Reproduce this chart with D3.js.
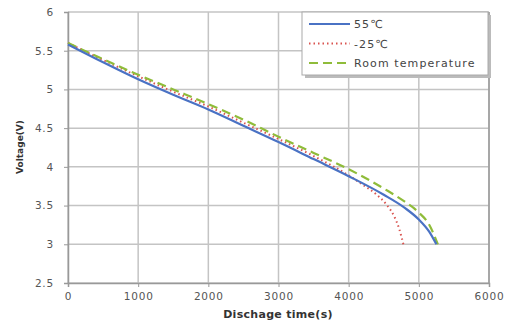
<!DOCTYPE html>
<html><head><meta charset="utf-8">
<script src="https://cdn.jsdelivr.net/npm/d3@7"></script>
<style>body{margin:0;background:#fff}svg{display:block}</style>
</head><body><svg id="c" width="509" height="325"></svg>
<script>
const seriesNames = ["55℃", "-25℃", "Room temperature"];
const t55 = [0, 500, 1000, 1500, 2000, 2500, 3000, 3500, 4000, 4500, 4800, 5000, 5150, 5250];
const v55 = [5.58, 5.35, 5.13, 4.93, 4.74, 4.53, 4.32, 4.1, 3.88, 3.64, 3.47, 3.32, 3.16, 3.0];
const tM25 = [0, 500, 1000, 1500, 2000, 2500, 3000, 3500, 4000, 4200, 4400, 4550, 4650, 4720, 4780];
const vM25 = [5.6, 5.38, 5.17, 4.97, 4.78, 4.57, 4.36, 4.14, 3.89, 3.77, 3.64, 3.5, 3.36, 3.2, 3.0];
const tRoom = [0, 500, 1000, 1500, 2000, 2500, 3000, 3500, 4000, 4500, 4800, 5000, 5150, 5270];
const vRoom = [5.6, 5.39, 5.19, 5.0, 4.81, 4.61, 4.39, 4.18, 3.97, 3.72, 3.55, 3.41, 3.25, 3.0];
const xTicks = [0, 1000, 2000, 3000, 4000, 5000, 6000];
const yTicks = [2.5, 3, 3.5, 4, 4.5, 5, 5.5, 6];

const svg = d3.select("#c");
const L = 68, R = 489, T = 12, B = 283;
const x = d3.scaleLinear().domain([0, 6000]).range([L, R]);
const y = d3.scaleLinear().domain([2.5, 6]).range([B, T]);
const font = "Verdana, 'DejaVu Sans', sans-serif";

// gridlines
svg.append("g").selectAll("line").data(xTicks).join("line")
  .attr("x1", d => x(d)).attr("x2", d => x(d)).attr("y1", T).attr("y2", B)
  .attr("stroke", "#c4c4c4").attr("stroke-width", 1.5);
svg.append("g").selectAll("line").data(yTicks).join("line")
  .attr("x1", L).attr("x2", R).attr("y1", d => y(d)).attr("y2", d => y(d))
  .attr("stroke", "#c4c4c4").attr("stroke-width", 1.5);
// right border
svg.append("line").attr("x1", R).attr("x2", R).attr("y1", T).attr("y2", B)
  .attr("stroke", "#999").attr("stroke-width", 1.5);

// axes
const xAxis = svg.append("g").attr("transform", `translate(0,${B})`)
  .call(d3.axisBottom(x).tickValues(xTicks).tickSize(4).tickPadding(6).tickFormat(d3.format("d")));
const yAxis = svg.append("g").attr("transform", `translate(${L},0)`)
  .call(d3.axisLeft(y).tickValues(yTicks).tickSize(4).tickPadding(10).tickFormat(d => String(d)));
[xAxis, yAxis].forEach(a => {
  a.select(".domain").attr("stroke", "#999").attr("stroke-width", 1.5);
  a.selectAll(".tick line").attr("stroke", "#999");
  a.selectAll("text").attr("fill", "#555").attr("font-size", 10.5).attr("font-family", font)
    .attr("letter-spacing", 0.8);
});

// series
const line = d3.line().x(d => x(d[0])).y(d => y(d[1])).curve(d3.curveMonotoneX);
const series = [
  {name: seriesNames[1], t: tM25, v: vM25, color: "#d9534f", dash: "1.5,3", w: 2},
  {name: seriesNames[2], t: tRoom, v: vRoom, color: "#8fbc3a", dash: "9,5", w: 2.2},
  {name: seriesNames[0], t: t55, v: v55, color: "#4a72c4", dash: null, w: 2.2},
];
series.forEach(s => {
  svg.append("path").datum(s.t.map((t, i) => [t, s.v[i]]))
    .attr("d", line).attr("fill", "none").attr("stroke", s.color)
    .attr("stroke-width", s.w).attr("stroke-dasharray", s.dash);
});

// legend
const lg = svg.append("g");
lg.append("rect").attr("x", 305).attr("y", 15).attr("width", 186).attr("height", 63).attr("fill", "#bbb");
lg.append("rect").attr("x", 302).attr("y", 12).attr("width", 186).attr("height", 63)
  .attr("fill", "#fff").attr("stroke", "#aaa");
seriesNames.map(n => series.find(s => s.name === n)).forEach((s, i) => {
  const yy = 24 + i * 19.5;
  lg.append("line").attr("x1", 309).attr("x2", 350).attr("y1", yy).attr("y2", yy)
    .attr("stroke", s.color).attr("stroke-width", 2).attr("stroke-dasharray", s.dash);
  lg.append("text").attr("x", 354).attr("y", yy + 4).text(s.name)
    .attr("font-size", 11).attr("letter-spacing", 1.1).attr("font-family", font).attr("fill", "#444");
});

// titles
svg.append("text").attr("x", 278).attr("y", 318).attr("text-anchor", "middle")
  .attr("font-size", 11).attr("letter-spacing", 0.3).attr("font-weight", "bold").attr("font-family", font).attr("fill", "#333")
  .text("Dischage time(s)");
svg.append("text").attr("transform", "translate(23,147) rotate(-90)").attr("text-anchor", "middle")
  .attr("font-size", 9).attr("font-weight", "bold").attr("font-family", font).attr("fill", "#333")
  .text("Voltage(V)");
</script></body></html>
